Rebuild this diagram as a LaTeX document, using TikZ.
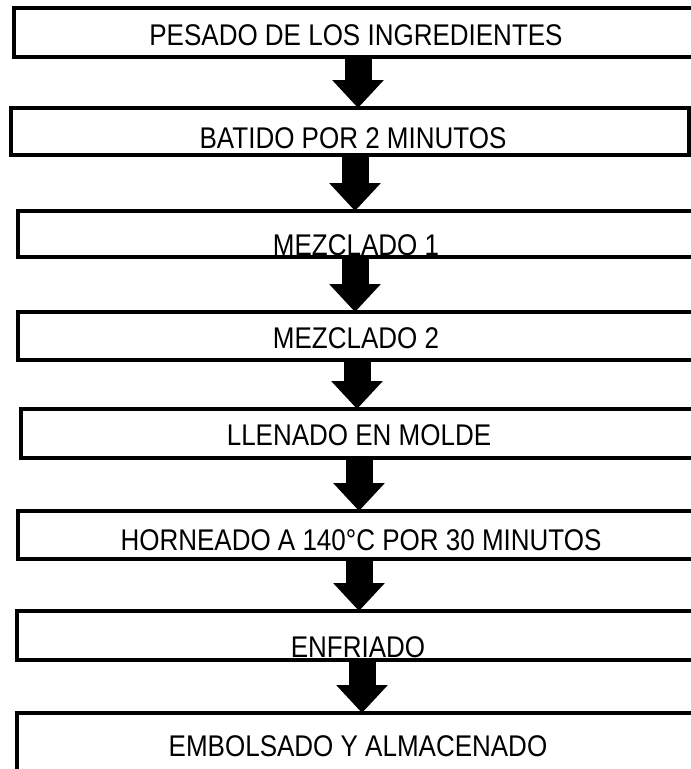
\documentclass[tikz,border=0pt]{standalone}
\usepackage{fontspec}
\setmainfont{Liberation Sans}
\usetikzlibrary{arrows.meta}
\begin{document}
\begin{tikzpicture}[x=1pt,y=-1pt,
  stepbox/.style={draw=black,line width=4pt,inner sep=0pt,outer sep=0pt,anchor=north west},
  steplabel/.style={anchor=base,inner sep=0pt,yscale=1.15,font=\fontsize{26}{30}\selectfont},
  flowarrow/.style={line width=27pt,-{Triangle[width=50pt,length=28pt]}}]
\useasboundingbox (0,0) rectangle (691,769);
\clip (0,0) rectangle (691,769);
% step texts (boxes are drawn afterwards so their frames lie on top)
\node[steplabel] (t1) at (356,45)  {PESADO DE LOS INGREDIENTES};
\node[steplabel] (t2) at (353,148) {BATIDO POR 2 MINUTOS};
\node[steplabel] (t3) at (356,255) {MEZCLADO 1};
\node[steplabel] (t4) at (356,348) {MEZCLADO 2};
\node[steplabel] (t5) at (359,445) {LLENADO EN MOLDE};
\node[steplabel] (t6) at (361,550) {HORNEADO A 140°C POR 30 MINUTOS};
\node[steplabel] (t7) at (358,657) {ENFRIADO};
\node[steplabel] (t8) at (358,756) {EMBOLSADO Y ALMACENADO};
% step frames
\node[stepbox,minimum width=706pt,minimum height=49pt] (b1) at (14,8) {};
\node[stepbox,minimum width=678pt,minimum height=47pt] (b2) at (11,108) {};
\node[stepbox,minimum width=702pt,minimum height=46pt] (b3) at (18,211) {};
\node[stepbox,minimum width=702pt,minimum height=48pt] (b4) at (18,312) {};
\node[stepbox,minimum width=699pt,minimum height=49pt] (b5) at (21,409) {};
\node[stepbox,minimum width=702pt,minimum height=48pt] (b6) at (18,511) {};
\node[stepbox,minimum width=703pt,minimum height=49pt] (b7) at (17,611) {};
\node[stepbox,minimum width=703pt,minimum height=80pt] (b8) at (17,713) {};
% arrow axes
\coordinate (x1) at (358,0);
\coordinate (x2) at (355,0);
\coordinate (x3) at (355,0);
\coordinate (x4) at (357,0);
\coordinate (x5) at (359,0);
\coordinate (x6) at (359,0);
\coordinate (x7) at (362,0);
% connectors
\draw[flowarrow] (x1 |- b1.south) -- (x1 |- b2.north);
\draw[flowarrow] (x2 |- b2.south) -- (x2 |- b3.north);
\draw[flowarrow] (x3 |- b3.south) -- (x3 |- b4.north);
\draw[flowarrow] (x4 |- b4.south) -- (x4 |- b5.north);
\draw[flowarrow] (x5 |- b5.south) -- (x5 |- b6.north);
\draw[flowarrow] (x6 |- b6.south) -- (x6 |- b7.north);
\draw[flowarrow] (x7 |- b7.south) -- (x7 |- b8.north);
\end{tikzpicture}
\end{document}
